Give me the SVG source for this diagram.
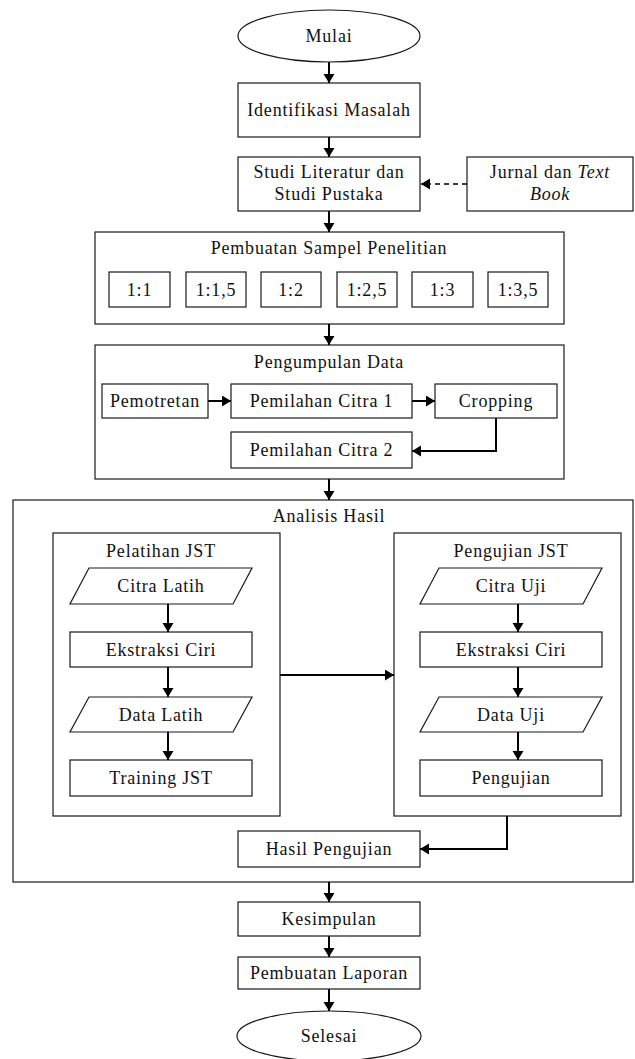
<svg xmlns="http://www.w3.org/2000/svg" width="635" height="1059" viewBox="0 0 635 1059">
  <style>
    .box { fill: #fff; stroke: #1a1a1a; stroke-width: 1.2; }
    .frame { fill: none; stroke: #1a1a1a; stroke-width: 1.2; }
    .lbl { font-family: 'Liberation Serif', 'DejaVu Serif', serif; font-size: 18px; letter-spacing: 0.8px; fill: #111; text-anchor: middle; }
    .wire { fill: none; stroke: #000; stroke-width: 2; }
    .dash { fill: none; stroke: #000; stroke-width: 1.4; stroke-dasharray: 5 4; }
  </style>
  <defs>
    <marker id="head" markerUnits="userSpaceOnUse" markerWidth="12" markerHeight="12" refX="9" refY="5.5" orient="auto">
      <path d="M0,0 L9,5.5 L0,11 Z" fill="#000"/>
    </marker>
  </defs>
  <rect width="635" height="1059" fill="#fff"/>

  <g font-family="Liberation Serif, DejaVu Serif, serif">
  <!-- containers -->
  <g id="sampel">
    <rect class="frame" x="95" y="232" width="469" height="92"/>
    <text class="lbl" x="329" y="254">Pembuatan Sampel Penelitian</text>
  </g>
  <g id="pengumpulan">
    <rect class="frame" x="95" y="345" width="469" height="134"/>
    <text class="lbl" x="329" y="368">Pengumpulan Data</text>
  </g>
  <g id="analisis">
    <rect class="frame" x="13" y="500" width="620" height="382"/>
    <text class="lbl" x="329" y="522">Analisis Hasil</text>
  </g>
  <g id="pelatihan">
    <rect class="frame" x="53" y="533" width="227" height="283"/>
    <text class="lbl" x="161" y="557">Pelatihan JST</text>
  </g>
  <g id="pengujian-jst">
    <rect class="frame" x="394" y="533" width="227" height="283"/>
    <text class="lbl" x="511" y="557">Pengujian JST</text>
  </g>

  <!-- connectors -->
  <g id="connectors">
    <line class="wire" x1="329" y1="62" x2="329" y2="83" marker-end="url(#head)"/>
    <line class="wire" x1="329" y1="137" x2="329" y2="157" marker-end="url(#head)"/>
    <line class="dash" x1="467" y1="184" x2="421" y2="184" marker-end="url(#head)"/>
    <line class="wire" x1="329" y1="211" x2="329" y2="232" marker-end="url(#head)"/>
    <line class="wire" x1="329" y1="324" x2="329" y2="345" marker-end="url(#head)"/>
    <line class="wire" x1="208" y1="401" x2="231" y2="401" marker-end="url(#head)"/>
    <line class="wire" x1="412" y1="401" x2="435" y2="401" marker-end="url(#head)"/>
    <polyline class="wire" points="496,418 496,451 412,451" marker-end="url(#head)"/>
    <line class="wire" x1="329" y1="479" x2="329" y2="500" marker-end="url(#head)"/>
    <line class="wire" x1="168" y1="604" x2="168" y2="632" marker-end="url(#head)"/>
    <line class="wire" x1="168" y1="667" x2="168" y2="697" marker-end="url(#head)"/>
    <line class="wire" x1="168" y1="732" x2="168" y2="760" marker-end="url(#head)"/>
    <line class="wire" x1="518" y1="604" x2="518" y2="632" marker-end="url(#head)"/>
    <line class="wire" x1="518" y1="667" x2="518" y2="697" marker-end="url(#head)"/>
    <line class="wire" x1="518" y1="732" x2="518" y2="760" marker-end="url(#head)"/>
    <line class="wire" x1="280" y1="675" x2="394" y2="675" marker-end="url(#head)"/>
    <polyline class="wire" points="507,816 507,849 420,849" marker-end="url(#head)"/>
    <line class="wire" x1="329" y1="882" x2="329" y2="902" marker-end="url(#head)"/>
    <line class="wire" x1="329" y1="936" x2="329" y2="957" marker-end="url(#head)"/>
    <line class="wire" x1="329" y1="989" x2="329" y2="1011" marker-end="url(#head)"/>
  </g>

  <!-- main flow -->
  <g id="mulai">
    <ellipse class="box" cx="329" cy="36" rx="91" ry="26"/>
    <text class="lbl" x="329" y="42">Mulai</text>
  </g>
  <g id="identifikasi">
    <rect class="box" x="238" y="83" width="182" height="54"/>
    <text class="lbl" x="329" y="116">Identifikasi Masalah</text>
  </g>
  <g id="studi">
    <rect class="box" x="238" y="157" width="182" height="54"/>
    <text class="lbl" x="329" y="178">Studi Literatur dan</text>
    <text class="lbl" x="329" y="200">Studi Pustaka</text>
  </g>
  <g id="jurnal">
    <rect class="box" x="467" y="157" width="166" height="54"/>
    <text class="lbl" x="550" y="178">Jurnal dan <tspan font-style="italic">Text</tspan></text>
    <text class="lbl" x="550" y="200" font-style="italic">Book</text>
  </g>

  <!-- sample ratios -->
  <g id="r1"><rect class="box" x="109" y="272" width="61" height="35"/><text class="lbl" x="139.5" y="296">1:1</text></g>
  <g id="r15"><rect class="box" x="186" y="272" width="60" height="35"/><text class="lbl" x="216" y="296">1:1,5</text></g>
  <g id="r2"><rect class="box" x="261" y="272" width="60" height="35"/><text class="lbl" x="291" y="296">1:2</text></g>
  <g id="r25"><rect class="box" x="337" y="272" width="60" height="35"/><text class="lbl" x="367" y="296">1:2,5</text></g>
  <g id="r3"><rect class="box" x="412" y="272" width="61" height="35"/><text class="lbl" x="442.5" y="296">1:3</text></g>
  <g id="r35"><rect class="box" x="488" y="272" width="60" height="35"/><text class="lbl" x="518" y="296">1:3,5</text></g>

  <!-- data collection -->
  <g id="pemotretan">
    <rect class="box" x="102" y="384" width="106" height="34"/>
    <text class="lbl" x="155" y="407">Pemotretan</text>
  </g>
  <g id="pemilahan1">
    <rect class="box" x="231" y="384" width="181" height="34"/>
    <text class="lbl" x="321.5" y="407">Pemilahan Citra 1</text>
  </g>
  <g id="cropping">
    <rect class="box" x="435" y="384" width="122" height="34"/>
    <text class="lbl" x="496" y="407">Cropping</text>
  </g>
  <g id="pemilahan2">
    <rect class="box" x="231" y="432" width="181" height="36"/>
    <text class="lbl" x="321.5" y="456">Pemilahan Citra 2</text>
  </g>

  <!-- training -->
  <g id="citra-latih">
    <polygon class="box" points="89,568 252,568 233,604 70,604"/>
    <text class="lbl" x="161" y="592">Citra Latih</text>
  </g>
  <g id="ekstraksi-latih">
    <rect class="box" x="70" y="632" width="182" height="35"/>
    <text class="lbl" x="161" y="656">Ekstraksi Ciri</text>
  </g>
  <g id="data-latih">
    <polygon class="box" points="89,697 252,697 233,732 70,732"/>
    <text class="lbl" x="161" y="721">Data Latih</text>
  </g>
  <g id="training">
    <rect class="box" x="70" y="760" width="182" height="36"/>
    <text class="lbl" x="161" y="784">Training JST</text>
  </g>

  <!-- testing -->
  <g id="citra-uji">
    <polygon class="box" points="439,568 602,568 583,604 420,604"/>
    <text class="lbl" x="511" y="592">Citra Uji</text>
  </g>
  <g id="ekstraksi-uji">
    <rect class="box" x="420" y="632" width="182" height="35"/>
    <text class="lbl" x="511" y="656">Ekstraksi Ciri</text>
  </g>
  <g id="data-uji">
    <polygon class="box" points="439,697 602,697 583,732 420,732"/>
    <text class="lbl" x="511" y="721">Data Uji</text>
  </g>
  <g id="pengujian">
    <rect class="box" x="420" y="760" width="182" height="36"/>
    <text class="lbl" x="511" y="784">Pengujian</text>
  </g>

  <g id="hasil">
    <rect class="box" x="238" y="831" width="182" height="36"/>
    <text class="lbl" x="329" y="855">Hasil Pengujian</text>
  </g>

  <g id="kesimpulan">
    <rect class="box" x="238" y="902" width="182" height="34"/>
    <text class="lbl" x="329" y="925">Kesimpulan</text>
  </g>
  <g id="laporan">
    <rect class="box" x="238" y="957" width="182" height="32"/>
    <text class="lbl" x="329" y="979">Pembuatan Laporan</text>
  </g>
  <g id="selesai">
    <ellipse class="box" cx="329" cy="1036" rx="92" ry="25"/>
    <text class="lbl" x="329" y="1042">Selesai</text>
  </g>
  </g>
</svg>
